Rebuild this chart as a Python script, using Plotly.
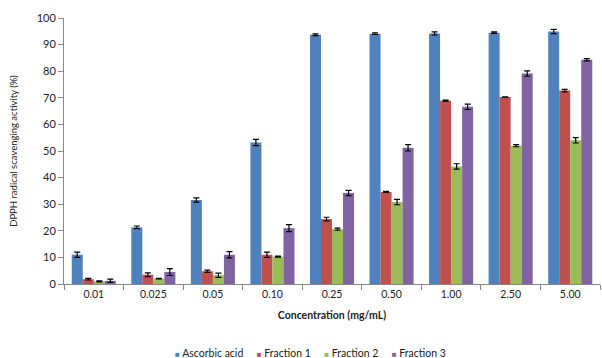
import plotly.graph_objects as go

categories = ["0.01", "0.025", "0.05", "0.10", "0.25", "0.50", "1.00", "2.50", "5.00"]
ascorbic = [11.0, 21.3, 31.6, 53.2, 93.7, 94.1, 94.2, 94.5, 94.9]
ascorbic_err = [1.0, 0.5, 0.8, 1.2, 0.3, 0.3, 0.6, 0.3, 0.8]
frac1 = [1.8, 3.5, 4.8, 11.0, 24.4, 34.6, 68.9, 70.3, 72.7]
frac1_err = [0.3, 0.7, 0.4, 1.0, 0.7, 0.2, 0.2, 0.1, 0.5]
frac2 = [1.0, 2.0, 3.3, 10.3, 20.6, 30.8, 44.2, 52.0, 54.0]
frac2_err = [0.2, 0.1, 0.8, 0.2, 0.4, 1.0, 1.0, 0.4, 1.0]
frac3 = [1.2, 4.5, 11.0, 21.0, 34.2, 51.2, 66.6, 79.1, 84.3]
frac3_err = [0.6, 1.3, 1.2, 1.3, 1.0, 1.2, 1.0, 1.0, 0.4]

series = [
    ("Ascorbic acid", ascorbic, ascorbic_err, "#4F81BD"),
    ("Fraction 1", frac1, frac1_err, "#C0504D"),
    ("Fraction 2", frac2, frac2_err, "#9BBB59"),
    ("Fraction 3", frac3, frac3_err, "#8064A2"),
]

FONT = "Lato, 'Open Sans', sans-serif"

fig = go.Figure()
for name, vals, errs, color in series:
    fig.add_trace(go.Bar(
        x=categories, y=vals, name=name, showlegend=False,
        marker=dict(color=color, line=dict(width=0)),
        error_y=dict(type="data", array=errs, visible=True,
                     color="black", thickness=1.2, width=3),
    ))

legend_text = "&nbsp;&nbsp;&nbsp;&nbsp;&nbsp;".join(
    f'<span style="color:{c}; font-size:8px">■</span> {n}' for n, _, _, c in series
)
fig.add_annotation(
    text=legend_text, xref="paper", yref="paper", x=0.459, y=-0.259,
    xanchor="center", yanchor="middle", showarrow=False,
    font=dict(family=FONT, size=10.5, color="#222"),
)

fig.update_layout(
    width=602, height=358,
    margin=dict(l=64, r=2, t=18, b=74),
    paper_bgcolor="white", plot_bgcolor="white",
    barmode="group", bargap=0.26, bargroupgap=0,
    font=dict(family=FONT, size=10, color="#222"),
    xaxis=dict(
        type="category", showline=True, linecolor="#888", linewidth=1,
        ticks="outside", tickson="boundaries", ticklen=5, tickcolor="#888",
        showgrid=False, tickfont=dict(size=10.5), automargin=False,
        title=dict(text="<b>Concentration (mg/mL)</b>", font=dict(size=10.5), standoff=13),
    ),
    yaxis=dict(
        range=[0, 100], dtick=10, showline=True, linecolor="#888", linewidth=1,
        ticks="outside", ticklen=5, tickcolor="#888", showgrid=False,
        tickfont=dict(size=11), zeroline=False, automargin=False,
        title=dict(text="DPPH radical scavenging activity (%)", font=dict(size=9.5), standoff=17),
    ),
)

fig.write_html("out.html")
